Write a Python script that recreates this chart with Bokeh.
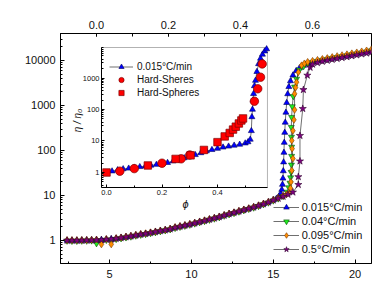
import math
from bokeh.plotting import figure
from bokeh.models import (Range1d, LinearAxis, LogAxis, LinearScale, LogScale, FixedTicker,
                          SingleIntervalTicker, NumeralTickFormatter, Legend, LegendItem,
                          Label, BoxAnnotation)
from bokeh.embed import file_html
from bokeh.resources import INLINE

FONT = "Liberation Sans"

# ---------------- main plot data: eta/eta0 vs T (°C) ----------------
T_low = [2.4, 2.7, 3.0, 3.3, 3.6, 3.9, 4.2, 4.5, 4.8, 5.1, 5.4, 5.7, 6.0, 6.3, 6.6, 6.9, 7.2,
         7.5, 7.8, 8.1, 8.4, 8.7, 9.0, 9.3, 9.6, 9.9, 10.2, 10.5, 10.8, 11.1, 11.4, 11.7,
         12.0, 12.3, 12.6, 12.9, 13.2, 13.5, 13.8, 14.1, 14.4, 14.7, 15.0]
T_up = [17.1, 17.4, 17.7, 18.0, 18.3, 18.6, 18.9, 19.2, 19.5, 19.8, 20.1, 20.4, 20.7, 21.0]

# 0.015 °C/min
eta_low_015 = [1.00, 1.00, 1.00, 1.01, 1.01, 1.02, 1.03, 1.04, 1.06, 1.08, 1.11, 1.15, 1.20,
               1.25, 1.31, 1.37, 1.42, 1.49, 1.56, 1.64, 1.71, 1.80, 1.95, 2.06, 2.17, 2.29,
               2.44, 2.60, 2.76, 2.95, 3.14, 3.35, 3.63, 3.90, 4.17, 4.47, 4.79, 5.13, 5.50,
               5.96, 6.5, 7.1, 7.9]
T_jump_015 = [15.2, 15.35, 15.45, 15.52, 15.56, 15.59, 15.61, 15.63, 15.65, 15.67, 15.7, 15.73,
              15.77, 15.82, 15.88, 15.95, 16.05, 16.2, 16.4, 16.6, 16.85]
eta_jump_015 = [8.6, 9.6, 11.0, 13.5, 17.5, 24, 35, 55, 90, 150, 250, 420, 700, 1150, 1800,
                2600, 3500, 4700, 5900, 6800, 7700]
eta_up_015 = [8500, 9100, 9600, 10100, 10600, 11100, 11700, 12200, 12800, 13500, 14100,
              14800, 15500, 16400]

# 0.04 °C/min
eta_low_04 = [0.98, 0.97, 0.97, 0.98, 0.98, 0.99, 0.86, 1.0, 1.02, 1.04, 1.07, 1.11, 1.16,
              1.21, 1.27, 1.33, 1.38, 1.44, 1.51, 1.59, 1.66, 1.75, 1.88, 1.99, 2.1, 2.22,
              2.36, 2.52, 2.68, 2.86, 3.04, 3.25, 3.52, 3.78, 4.04, 4.34, 4.65, 4.98, 5.33,
              5.78, 6.3, 6.9, 7.65]
T_jump_04 = [15.3, 15.6, 15.85, 15.95, 16.02, 16.06, 16.09, 16.11, 16.12, 16.12, 16.11, 16.1,
             16.12, 16.16, 16.22, 16.3, 16.42, 16.6, 16.85]
eta_jump_04 = [8.5, 9.6, 12, 15, 19, 25, 33, 48, 75, 120, 200, 330, 550, 950, 1600, 2600,
               3900, 6200, 7400]
eta_up_04 = [8700, 9200, 9700, 10200, 10700, 11200, 11800, 12300, 12900, 13600, 14200,
             14900, 15700, 16600]

# 0.095 °C/min
eta_low_095 = [1.02, 1.02, 1.02, 1.03, 1.03, 1.04, 1.05, 0.82, 1.08, 0.82, 1.13, 1.17, 1.22,
               1.28, 1.34, 1.4, 1.45, 1.52, 1.59, 1.67, 1.74, 1.84, 1.99, 2.1, 2.21, 2.34,
               2.49, 2.65, 2.82, 3.01, 3.2, 3.42, 3.7, 3.98, 4.25, 4.56, 4.89, 5.23, 5.61,
               6.08, 6.63, 7.24, 8.06]
T_jump_095 = [15.3, 15.6, 15.8, 15.95, 16.05, 16.08, 16.13, 16.2, 16.15, 16.13, 16.2, 16.26,
              16.3, 16.3, 16.36, 16.42, 16.53, 16.73, 16.9]
eta_jump_095 = [8.9, 9.9, 10.5, 11.5, 14.5, 20, 36, 66, 110, 166, 275, 480, 800, 1820, 2500,
                3300, 5500, 7800, 8600]
eta_up_095 = [9300, 9800, 10300, 10800, 11300, 11900, 12500, 13100, 13700, 14400, 15100,
              15900, 16700, 17800]

# 0.5 °C/min
eta_low_05 = [1.0, 1.0, 1.0, 1.0, 1.01, 1.01, 1.02, 1.03, 1.05, 1.07, 1.1, 1.14, 1.19, 1.24,
              1.3, 1.36, 1.41, 1.48, 1.55, 1.63, 1.7, 1.79, 1.93, 2.04, 2.15, 2.27, 2.42,
              2.58, 2.74, 2.93, 3.12, 3.33, 3.6, 3.87, 4.14, 4.44, 4.76, 5.1, 5.46, 5.92,
              6.45, 7.05, 7.85]
T_jump_05 = [15.3, 15.6, 15.9, 16.2, 16.53, 16.53, 16.63, 16.63, 16.80, 16.84, 17.08, 17.25]
eta_jump_05 = [8.6, 9.5, 10.5, 11.8, 17.4, 26, 58, 214, 850, 2240, 4680, 7000]
T_up_05 = [17.4, 17.7, 18.0, 18.3, 18.6, 18.9, 19.2, 19.5, 19.8, 20.1, 20.4, 20.7, 21.0]
eta_up_05 = [8200, 8900, 9500, 10000, 10500, 11000, 11500, 12000, 12600, 13200, 13900,
             14500, 15300]

labels_main = ["0.015°C/min", "0.04°C/min", "0.095°C/min", "0.5°C/min"]

# ---------------- inset data: eta/eta0 vs phi ----------------
phi_015 = [0.0, 0.02, 0.04, 0.06, 0.08, 0.10, 0.12, 0.14, 0.16, 0.18, 0.20, 0.22, 0.24, 0.26,
           0.28, 0.30, 0.32, 0.34, 0.36, 0.38, 0.40, 0.42, 0.44, 0.46, 0.48, 0.50, 0.51,
           0.518, 0.522, 0.524, 0.526, 0.528, 0.53, 0.533, 0.537, 0.542, 0.548, 0.555,
           0.562, 0.57, 0.577]
eta_phi_015 = [1.0, 1.10, 1.20, 1.29, 1.35, 1.43, 1.51, 1.58, 1.68, 1.78, 1.91, 2.04, 2.29,
               2.57, 2.88, 3.24, 3.63, 4.17, 4.79, 5.25, 5.75, 6.31, 6.76, 7.24, 7.76, 8.5,
               9.3, 11.2, 21, 58, 100, 195, 316, 560, 830, 1580, 2800, 4170, 5600, 7100, 8300]
phi_hs_c = [0.048, 0.10, 0.20, 0.269, 0.30, 0.533, 0.545, 0.555, 0.561]
eta_hs_c = [1.1, 1.33, 1.97, 2.72, 3.6, 183, 455, 1060, 2800]
phi_hs_s = [0.0, 0.149, 0.249, 0.303, 0.351, 0.40, 0.426, 0.444, 0.456, 0.466, 0.477, 0.486,
            0.492]
eta_hs_s = [1.0, 1.67, 2.7, 3.5, 5.2, 9.2, 14, 18, 23, 28.5, 36, 45, 52]

# ---------------- figure ----------------
p = figure(width=374, height=304, output_backend="svg", toolbar_location=None,
           x_range=Range1d(2, 21), y_range=Range1d(0.308, 39800), y_axis_type="log",
           min_border_left=60, min_border_right=3, min_border_top=33, min_border_bottom=41,
           background_fill_color="white", border_fill_color="white")
p.outline_line_color = "black"
p.outline_line_width = 1
p.xgrid.visible = False
p.ygrid.visible = False
p.extra_x_ranges = {"phi": Range1d(-0.1, 0.764), "ix": Range1d(-0.1658, 0.955)}
p.extra_y_ranges = {"iy": Range1d(0.00129, 25880)}
p.extra_x_scales = {"phi": LinearScale(), "ix": LinearScale()}
p.extra_y_scales = {"iy": LogScale()}


def style_axis(ax, size, tin=4, mtin=2):
    ax.axis_line_color = "black"
    ax.major_tick_line_color = "black"
    ax.minor_tick_line_color = "black"
    ax.major_label_text_font = FONT
    ax.major_label_text_font_size = size
    ax.major_label_text_color = "#111111"
    ax.major_tick_in = tin
    ax.major_tick_out = 0
    ax.minor_tick_in = mtin
    ax.minor_tick_out = 0


minor_main = [m * 10 ** k for k in range(-1, 5) for m in range(2, 10)]
minor_inset = [m * 0.1 for m in range(4, 10)] + [m * 10 ** k for k in range(0, 4) for m in range(2, 10)]

xb = p.below[0]
xb.ticker = SingleIntervalTicker(interval=5, num_minor_ticks=2)
style_axis(xb, "11px")
xb.major_label_standoff = 6

yl = p.left[0]
yl.ticker = FixedTicker(ticks=[1, 10, 100, 1000, 10000], minor_ticks=minor_main)
yl.formatter = NumeralTickFormatter(format="0")
style_axis(yl, "11px")
yl.major_label_standoff = 5

xt = LinearAxis(x_range_name="phi", ticker=SingleIntervalTicker(interval=0.2, num_minor_ticks=2),
                formatter=NumeralTickFormatter(format="0.0"))
style_axis(xt, "11px", 3, 3)
xt.major_label_standoff = 5
p.add_layout(xt, "above")

# inset frame and axes
ix0, ix1, iy0, iy1 = -0.018, 0.58, 0.334, 9290
p.add_layout(BoxAnnotation(left=ix0, right=ix1, bottom=iy0, top=iy1, x_range_name="ix",
                           y_range_name="iy", fill_color="white", fill_alpha=1,
                           line_color="black", line_width=1, level="underlay"))
ixa = LinearAxis(x_range_name="ix", y_range_name="iy", fixed_location=iy0, bounds=(ix0, ix1),
                 ticker=SingleIntervalTicker(interval=0.2, num_minor_ticks=2),
                 formatter=NumeralTickFormatter(format="0.0"))
style_axis(ixa, "7.5px", 3, 2)
ixa.major_label_standoff = 3
p.add_layout(ixa, "below")
iya = LogAxis(x_range_name="ix", y_range_name="iy", fixed_location=ix0, bounds=(iy0, iy1),
              ticker=FixedTicker(ticks=[1, 10, 100, 1000], minor_ticks=minor_inset),
              formatter=NumeralTickFormatter(format="0"))
style_axis(iya, "7.5px", 3, 2)
iya.major_label_standoff = 2
p.add_layout(iya, "left")

# main series
series = [
    (T_low + T_jump_015 + T_up, eta_low_015 + eta_jump_015 + eta_up_015,
     "triangle", 6, "#0000ff", "#000060"),
    (T_low + T_jump_04 + T_up, eta_low_04 + eta_jump_04 + eta_up_04,
     "inverted_triangle", 6, "#22ee22", "#005000"),
    (T_low + T_jump_095 + T_up, eta_low_095 + eta_jump_095 + eta_up_095,
     "diamond", 7, "#ff8c00", "#7a3a00"),
    (T_low + T_jump_05 + T_up_05, eta_low_05 + eta_jump_05 + eta_up_05,
     "star", 7.5, "#800080", "#300030"),
]
items = []
for (xs, ys, mk, sz, fc, lc), lab_ in zip(series, labels_main):
    lr = p.line(xs, ys, line_color="#303030", line_width=0.7)
    sr = p.scatter(xs, ys, marker=mk, size=sz, fill_color=fc, line_color=lc, line_width=0.6)
    items.append(LegendItem(label=lab_, renderers=[lr, sr]))

leg = Legend(items=items, location=(212.7, 7), padding=0, margin=0, spacing=0,
             glyph_width=26, glyph_height=14, label_height=14, label_standoff=3,
             label_text_font=FONT, label_text_font_size="11px", label_text_color="#111111",
             border_line_alpha=0, background_fill_alpha=0)
p.add_layout(leg, "center")

# inset series
il = p.line(phi_015, eta_phi_015, x_range_name="ix", y_range_name="iy",
            line_color="#303030", line_width=0.7)
isr = p.scatter(phi_015, eta_phi_015, x_range_name="ix", y_range_name="iy", marker="triangle",
                size=6, fill_color="#0000ff", line_color="#000060", line_width=0.6)
ic = p.scatter(phi_hs_c, eta_hs_c, x_range_name="ix", y_range_name="iy", marker="circle",
               size=8.5, fill_color="#ff0000", line_color="#800000", line_width=0.7)
isq = p.scatter(phi_hs_s, eta_hs_s, x_range_name="ix", y_range_name="iy", marker="square",
                size=7.5, fill_color="#ff0000", line_color="#800000", line_width=0.7)
leg2 = Legend(items=[LegendItem(label="0.015°C/min", renderers=[il, isr]),
                     LegendItem(label="Hard-Sheres", renderers=[ic]),
                     LegendItem(label="Hard-Spheres", renderers=[isq])],
              location=(49, 164.5), padding=0, margin=0, spacing=0,
              glyph_width=24, glyph_height=13, label_height=13, label_standoff=4,
              label_text_font=FONT, label_text_font_size="10px", label_text_color="#111111",
              border_line_alpha=0, background_fill_alpha=0)
p.add_layout(leg2, "center")

# axis titles
def lab(text, x, y, size, style="normal", angle=0.0, align="center"):
    p.add_layout(Label(text=text, x=x, y=y, x_units="screen", y_units="screen", angle=angle,
                       text_font=FONT, text_font_size=size, text_font_style=style,
                       text_align=align, text_baseline="middle", text_color="#111111"))

lab("T", 140, -32, "14px", "italic", align="left")
lab("(°C)", 150, -32, "14px", align="left")
lab("η /η₀", -48, 110, "14px", "italic", angle=math.pi / 2)
lab("ϕ", 143, 253, "16px", "italic")
lab("η / η₀", 17, 143, "10px", "italic", angle=math.pi / 2)
lab("ϕ", 125, 60, "11px", "italic")

open("out.html", "w").write(file_html(p, INLINE))
